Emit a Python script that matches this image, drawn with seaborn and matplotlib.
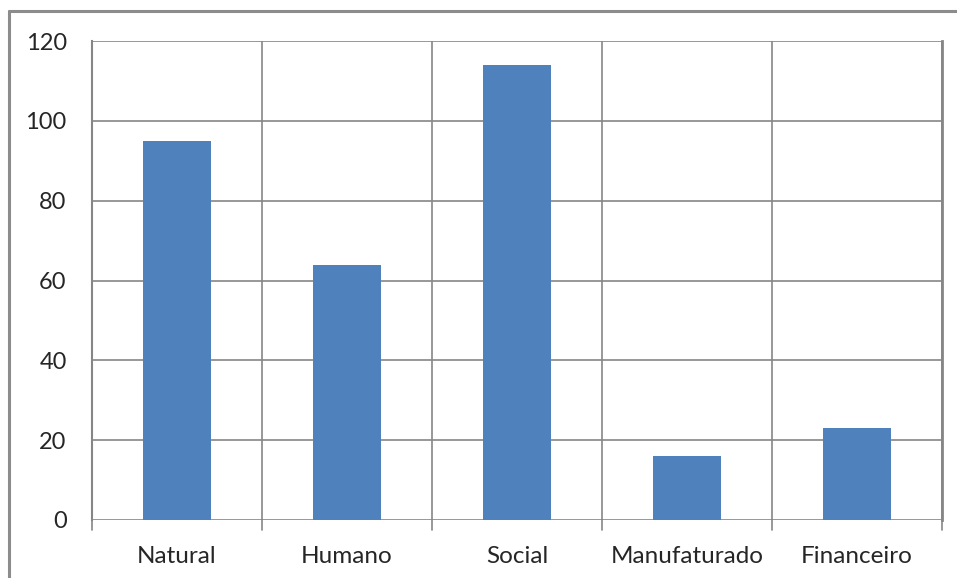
import matplotlib
matplotlib.use("Agg")
import matplotlib.pyplot as plt
import seaborn as sns
import pandas as pd
from matplotlib.lines import Line2D

categorias = ["Natural", "Humano", "Social", "Manufaturado", "Financeiro"]
valores = [95, 64, 114, 16, 23]
yticks = [0, 20, 40, 60, 80, 100, 120]

df = pd.DataFrame({"categoria": categorias, "valor": valores})

sns.set_style("white")
plt.rcParams['font.family'] = ['Lato', 'DejaVu Sans']

fig = plt.figure(figsize=(9.57, 5.78), dpi=100)
ax = fig.add_axes([92/957, 1 - 520/578, (942-92)/957, (520-41)/578])

grid_c = "#868686"
sns.barplot(data=df, x="categoria", y="valor", color="#4F81BD", saturation=1,
            width=0.4, linewidth=0, ax=ax, zorder=3)

ax.set_ylim(0, 120)
ax.set_xlim(-0.5, len(categorias) - 0.5)
ax.set_yticks(yticks)
ax.set_yticklabels([str(t) for t in yticks], fontsize=17)
ax.set_xticks(range(len(categorias)))
ax.set_xticklabels(categorias, fontsize=17.5)
ax.set_xlabel("")
ax.set_ylabel("")

# grade horizontal e vertical (limites das categorias)
for t in yticks:
    ax.axhline(t, color=grid_c, lw=1.2, zorder=1)
for i in range(len(categorias) + 1):
    ax.axvline(i - 0.5, color=grid_c, lw=1.2, zorder=1)

for s in ["top", "bottom"]:
    ax.spines[s].set_visible(False)
ax.spines["left"].set_color(grid_c)
ax.spines["left"].set_linewidth(1.5)
ax.spines["right"].set_color(grid_c)
ax.spines["right"].set_linewidth(2)

ax.tick_params(axis="y", length=7.2, width=1.2, color=grid_c, pad=11)
ax.tick_params(axis="x", length=0, pad=19)
# marcas entre categorias no eixo x
for i in range(len(categorias) + 1):
    ax.plot([i - 0.5, i - 0.5], [0, -2.5], color=grid_c, lw=1.2, clip_on=False)

# moldura
fig.add_artist(Line2D([9/957, 9/957], [0, 1 - 11/578], color="#8c8c8c", lw=2.2))
fig.add_artist(Line2D([9/957, 1], [1 - 11/578, 1 - 11/578], color="#8c8c8c", lw=2.2))

fig.savefig("out.png", dpi=100)
